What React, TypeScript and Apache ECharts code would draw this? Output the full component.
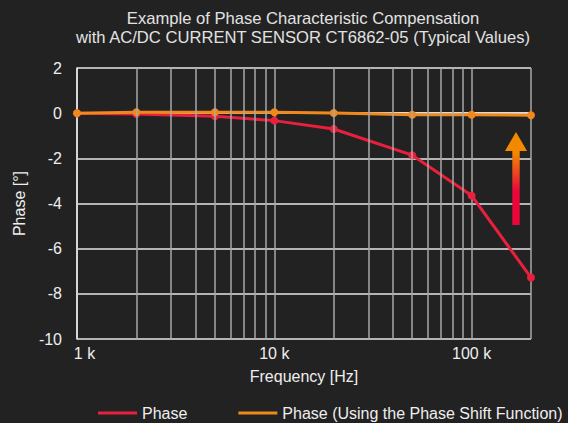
import React, { useEffect, useRef } from "react";
import * as echarts from "echarts";

const frequencies = [1000, 2000, 5000, 10000, 20000, 50000, 100000, 200000];
const phase = [0.0, -0.04, -0.14, -0.33, -0.7, -1.86, -3.65, -7.28];
const phaseShift = [0.0, 0.04, 0.04, 0.04, 0.01, -0.07, -0.07, -0.09];
const minorGridFreqs = [
  2000, 3000, 4000, 5000, 6000, 7000, 8000, 9000,
  20000, 30000, 40000, 50000, 60000, 70000, 80000, 90000,
];
const yTicks = { min: -10, max: 2, interval: 2 };
const titleLines = [
  "Example of Phase Characteristic Compensation",
  "with AC/DC CURRENT SENSOR CT6862-05 (Typical Values)",
];

const RED = "#e8203e";
const ORANGE = "#f0881c";
const BG = "#232222";
const FONT = "'Liberation Sans', Arial, Helvetica, sans-serif";

export default function App() {
  const ref = useRef<HTMLDivElement>(null);
  useEffect(() => {
    document.body.style.margin = "0";
    const chart = echarts.init(ref.current!, null, { renderer: "svg" });
    chart.setOption({
      animation: false,
      backgroundColor: BG,
      textStyle: { fontFamily: FONT },
      graphic: [
        {
          type: "text",
          x: 303,
          y: 9,
          style: {
            text: titleLines.join("\n"),
            fill: "#e2e2e2",
            font: `16.6px ${FONT}`,
            lineHeight: 19,
            textAlign: "center",
            textVerticalAlign: "top",
          },
        },
        {
          type: "polygon",
          z: 10,
          shape: {
            points: [
              [516, 132],
              [527, 151],
              [519.7, 151],
              [519.7, 225],
              [512.3, 225],
              [512.3, 151],
              [505, 151],
            ],
          },
          style: {
            fill: new echarts.graphic.LinearGradient(0, 0, 0, 1, [
              { offset: 0, color: "#f28a00" },
              { offset: 0.22, color: "#f28a00" },
              { offset: 0.64, color: "#e8063a" },
              { offset: 1, color: "#e8063a" },
            ]),
          },
        },
      ],
      grid: { left: 77, right: 37, top: 68, bottom: 84, containLabel: false },
      legend: {
        left: 98,
        top: 405,
        width: 470,
        padding: 0,
        icon: "rect",
        itemWidth: 39,
        itemHeight: 3,
        itemGap: 51,
        textStyle: { color: "#eeeeee", fontSize: 16, fontFamily: FONT },
        data: ["Phase", "Phase (Using the Phase Shift Function)"],
      },
      xAxis: {
        type: "log",
        logBase: 10,
        min: 1000,
        max: 200000,
        name: "Frequency [Hz]",
        nameLocation: "middle",
        nameGap: 29,
        nameTextStyle: { color: "#eeeeee", fontSize: 16, fontFamily: FONT },
        axisLine: { show: true, lineStyle: { color: "#e8e8e8", width: 1.5 } },
        axisTick: { show: false },
        axisLabel: {
          color: "#eeeeee",
          fontSize: 16,
          fontFamily: FONT,
          margin: 6,
          formatter: (v: number) => {
            const l = Math.log10(v);
            if (Math.abs(l - Math.round(l)) > 1e-6) return "";
            if (v === 1000) return "{first|1 k}";
            return `${v / 1000} k`;
          },
          rich: {
            first: {
              color: "#eeeeee",
              fontSize: 16,
              fontFamily: FONT,
              padding: [0, 0, 0, 15],
            },
          },
        },
        splitLine: { show: true, lineStyle: { color: "#a8a8a8", width: 1.5 } },
      },
      yAxis: {
        type: "value",
        min: yTicks.min,
        max: yTicks.max,
        interval: yTicks.interval,
        name: "Phase [°]",
        nameLocation: "middle",
        nameGap: 38,
        nameTextStyle: { color: "#eeeeee", fontSize: 16, fontFamily: FONT },
        axisLine: { show: true, lineStyle: { color: "#e8e8e8", width: 1.5 } },
        axisTick: { show: false },
        axisLabel: { color: "#eeeeee", fontSize: 16, fontFamily: FONT, margin: 15 },
        splitLine: { show: true, lineStyle: { color: "#e6e6e6", width: 1.5 } },
      },
      series: [
        {
          name: "minor-grid",
          type: "line",
          data: [],
          z: 1,
          silent: true,
          markLine: {
            silent: true,
            symbol: "none",
            label: { show: false },
            lineStyle: { color: "#a8a8a8", width: 1.5, type: "solid" },
            data: minorGridFreqs.map((f) => ({ xAxis: f })),
          },
        },
        {
          name: "Phase",
          type: "line",
          z: 3,
          data: frequencies.map((f, i) => [f, phase[i]]),
          color: RED,
          lineStyle: { color: RED, width: 3 },
          itemStyle: { color: RED },
          symbol: "circle",
          symbolSize: 8,
        },
        {
          name: "Phase (Using the Phase Shift Function)",
          type: "line",
          z: 4,
          data: frequencies.map((f, i) => [f, phaseShift[i]]),
          color: ORANGE,
          lineStyle: { color: ORANGE, width: 3 },
          itemStyle: { color: ORANGE },
          symbol: "circle",
          symbolSize: 8,
        },
      ],
    });
    return () => chart.dispose();
  }, []);
  return (
    <div
      ref={ref}
      style={{ width: 568, height: 423, position: "absolute", left: 0, top: 0 }}
    />
  );
}
